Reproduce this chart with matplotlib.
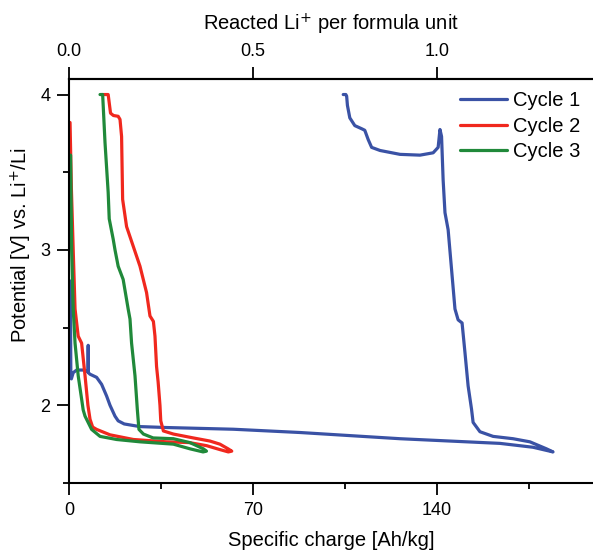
import matplotlib
matplotlib.use("Agg")
import matplotlib.pyplot as plt
from matplotlib.ticker import MultipleLocator, FixedLocator

plt.rcParams['font.family'] = ['Liberation Sans', 'DejaVu Sans']

# ---- data ----
c1_x = [0.5, 0.6, 0.7, 0.9, 1.6, 2.9, 5.4, 7.25, 7.3, 7.35, 8.0, 10.5, 12.4, 14.3, 15.6, 17.5,
        18.7, 21.0, 24.5, 27.0, 37.1, 62.5, 87.8, 125.9, 163.9, 176.5, 180.3, 184.1,
        181.6, 175.3, 168.9, 161.3, 156.3, 153.7, 153.1, 151.8, 150.6, 149.5, 148.0,
        146.8, 145.5, 144.2, 143.0, 142.3, 141.7, 141.1, 140.4, 138.5, 133.5, 125.9,
        118.3, 115.1, 113.8, 112.5, 111.3, 108.7, 106.8, 105.9, 105.6, 105.3, 104.3]
c1_y = [2.8, 2.5, 2.2, 2.17, 2.21, 2.227, 2.227, 2.215, 2.386, 2.21, 2.20, 2.18, 2.135, 2.06,
        2.0, 1.93, 1.90, 1.88, 1.87, 1.863, 1.857, 1.846, 1.825, 1.785, 1.755, 1.73, 1.715,
        1.70, 1.72, 1.765, 1.785, 1.80, 1.83, 1.89, 1.975, 2.125, 2.34, 2.53, 2.55, 2.62,
        2.875, 3.13, 3.24, 3.45, 3.73, 3.775, 3.66, 3.625, 3.61, 3.615, 3.64, 3.66, 3.71,
        3.77, 3.78, 3.80, 3.85, 3.93, 3.99, 4.0, 4.0]

c2_x = [0.4, 0.9, 1.6, 2.3, 3.5, 4.8, 6.1, 7.2, 8.0, 9.0, 10.5, 15.6, 24.5, 37.1, 45.8,
        52.4, 57.4, 60.6, 61.9,
        60.5, 57.4, 53.6, 47.3, 39.7, 35.9, 34.9, 34.6, 33.9, 33.3, 32.7, 32.1, 30.8,
        29.5, 27.0, 24.5, 21.9, 20.4, 20.0, 19.4, 18.7, 16.9, 15.8, 14.9, 12.5]
c2_y = [3.82, 3.4, 3.0, 2.62, 2.445, 2.40, 2.19, 2.0, 1.91, 1.86, 1.845, 1.81, 1.78, 1.765,
        1.76, 1.74, 1.715, 1.70, 1.705,
        1.72, 1.75, 1.77, 1.79, 1.815, 1.835, 1.9, 2.0, 2.15, 2.25, 2.445, 2.54, 2.575,
        2.725, 2.895, 3.02, 3.15, 3.325, 3.73, 3.84, 3.86, 3.865, 3.88, 4.0, 4.0]

c3_x = [0.6, 0.8, 1.0, 1.4, 1.6, 2.3, 3.5, 4.8, 5.4, 6.1, 8.6, 11.8, 18.1, 27.0, 39.7,
        46.0, 51.0, 52.3,
        51.1, 46.0, 39.7, 32.0, 28.3, 26.6, 26.0, 25.1, 23.8, 23.2, 22.5, 20.6, 18.7,
        17.5, 16.8, 15.3, 14.9, 13.7, 12.8, 11.8]
c3_y = [3.61, 3.3, 3.0, 2.75, 2.62, 2.40, 2.19, 2.04, 1.97, 1.93, 1.845, 1.80, 1.78, 1.765,
        1.75, 1.72, 1.70, 1.705,
        1.72, 1.76, 1.785, 1.79, 1.815, 1.845, 1.97, 2.19, 2.40, 2.555, 2.62, 2.81, 2.895,
        3.0, 3.07, 3.20, 3.37, 3.69, 4.0, 4.0]

series_labels = ["Cycle 1", "Cycle 2", "Cycle 3"]
series_colors = ["#3a52a5", "#f0281e", "#20893a"]

x_ticks = [0, 70, 140]
y_ticks = [2, 3, 4]
top_ticks = [0.0, 0.5, 1.0]
charge_per_li = 140.0  # Ah/kg per reacted Li+

# ---- figure ----
fig = plt.figure(figsize=(5.93, 5.54), dpi=100)
ax = fig.add_axes([69/593, 1-483/554, 1-69/593, (483-79)/554])

for xs, ys, lab, col in zip([c1_x, c2_x, c3_x], [c1_y, c2_y, c3_y], series_labels, series_colors):
    ax.plot(xs, ys, color=col, lw=2.3, label=lab, solid_joinstyle='round', solid_capstyle='round')

ax.set_xlim(0, 199.3)
ax.set_ylim(1.5, 4.1)

ax.spines['right'].set_visible(False)
for s in ['left', 'bottom', 'top']:
    ax.spines[s].set_linewidth(1.5)

ax.xaxis.set_major_locator(FixedLocator(x_ticks))
ax.xaxis.set_minor_locator(MultipleLocator(35))
ax.yaxis.set_major_locator(FixedLocator(y_ticks))
ax.yaxis.set_minor_locator(MultipleLocator(0.5))
ax.tick_params(which='major', direction='out', length=8.5, width=1.3, labelsize=13, pad=5)
ax.tick_params(which='minor', direction='out', length=4.5, width=1.3)
ax.tick_params(axis='x', which='both', top=False)
ax.tick_params(axis='y', which='both', right=False)

ax.set_xlabel("Specific charge [Ah/kg]", fontsize=14.5, labelpad=9)
ax.set_ylabel("Potential [V] vs. Li$^{+}$/Li", fontsize=14.5)
ax.yaxis.set_label_coords(-0.067, 0.589)

# top axis
ax2 = ax.secondary_xaxis('top', functions=(lambda x: x / charge_per_li, lambda r: r * charge_per_li))
ax2.xaxis.set_major_locator(FixedLocator(top_ticks))
ax2.xaxis.set_major_formatter(matplotlib.ticker.FormatStrFormatter('%.1f'))
ax2.tick_params(which='major', direction='out', length=8.5, width=1.3, labelsize=13, pad=5)
ax2.tick_params(which='minor', length=0)
ax2.spines['top'].set_linewidth(1.5)
ax2.set_xlabel("Reacted Li$^{+}$ per formula unit", fontsize=14.5, labelpad=9)

leg = ax.legend(loc='upper left', bbox_to_anchor=(460/593, 1-91/554), bbox_transform=fig.transFigure,
                frameon=False, fontsize=14.5, handlelength=2.33, handletextpad=0.3,
                labelspacing=0.33, borderpad=0, borderaxespad=0)
for ln in leg.get_lines():
    ln.set_linewidth(2.3)

fig.savefig("out.png", dpi=100)
